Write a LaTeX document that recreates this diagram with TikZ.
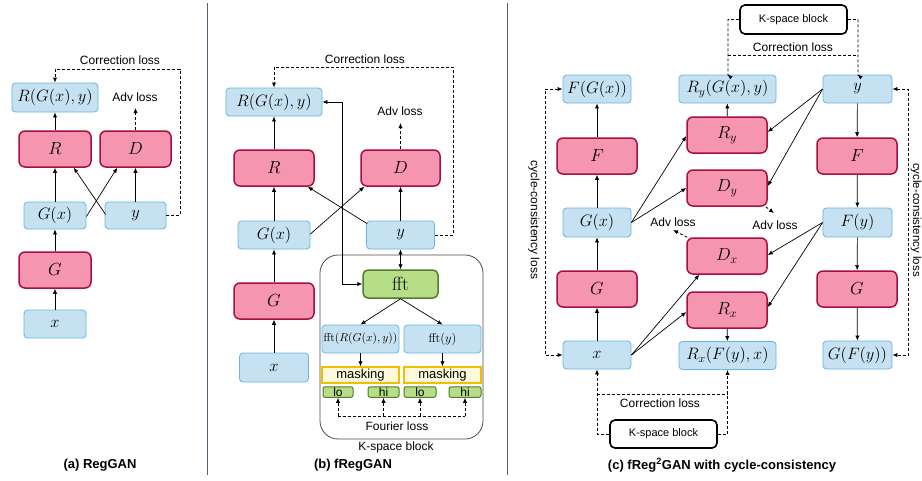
\RequirePackage{fix-cm}
\documentclass[tikz,border=0pt]{standalone}
\usepackage[no-math]{fontspec}
\setmainfont{Liberation Sans}
\usetikzlibrary{arrows.meta,calc}
\definecolor{bfill}{HTML}{C6E2F2}
\definecolor{bdraw}{HTML}{6AB4E0}
\definecolor{pfill}{HTML}{F595B0}
\definecolor{pdraw}{HTML}{A50F42}
\definecolor{gfill}{HTML}{B6DE86}
\definecolor{gdraw}{HTML}{4F7F2A}
\definecolor{mfill}{HTML}{FFF9DB}
\definecolor{mdraw}{HTML}{F2BE00}
\definecolor{sepcol}{HTML}{4F6272}
\newcommand\mfont{\fontsize{16.5}{19}\selectfont}
\newcommand\pfont{\fontsize{17.5}{20}\selectfont}
\tikzset{
  bbox/.style={draw=bdraw, fill=bfill, rounded corners=3.5pt, line width=0.8pt, inner sep=0pt, font=\mfont},
  pbox/.style={draw=pdraw, fill=pfill, rounded corners=6pt, line width=1.5pt, inner sep=0pt, font=\pfont},
  gbox/.style={draw=gdraw, fill=gfill, rounded corners=2pt, line width=1pt, inner sep=0pt},
  mbox/.style={draw=mdraw, fill=mfill, line width=1.3pt, inner sep=0pt, font=\fontsize{13}{15}\selectfont},
  kbox/.style={draw=black, fill=white, rounded corners=5pt, line width=1.6pt, inner sep=0pt, font=\fontsize{11}{13}\selectfont},
  arr/.style={-{Latex[length=5pt,width=4.2pt]}, line width=0.7pt},
  arrb/.style={{Latex[length=5pt,width=4.2pt]}-{Latex[length=5pt,width=4.2pt]}, line width=0.7pt},
  darr/.style={-{Latex[length=5pt,width=4.2pt]}, line width=0.8pt, dash pattern=on 3pt off 2pt},
  darrb/.style={{Latex[length=5pt,width=4.2pt]}-{Latex[length=5pt,width=4.2pt]}, line width=0.8pt, dash pattern=on 3pt off 2pt},
  dline/.style={line width=0.8pt, dash pattern=on 3pt off 2pt},
  lbl/.style={font=\fontsize{12}{14}\selectfont, inner sep=0pt},
  captxt/.style={font=\fontsize{13}{15}\selectfont\bfseries, inner sep=0pt},
  sepline/.style={draw=sepcol, line width=1pt},
}
\begin{document}
\begin{tikzpicture}[x=1pt,y=-1pt]
\useasboundingbox (0,0) rectangle (922,480);
\fill[white] (0,0) rectangle (922,480);
% separators
\draw[sepline] (207,3) -- (207,475);
\draw[sepline] (507,3) -- (507,475);

% ---------------- panel (a)
\node[bbox, minimum width=86, minimum height=29] (aRG) at (55,97.5) {$R(G(x),y)$};
\node[pbox, minimum width=72, minimum height=36] (aR) at (55,149) {$R$};
\node[pbox, minimum width=71, minimum height=36] (aD) at (135.5,149) {$D$};
\node[bbox, minimum width=62, minimum height=27] (aGx) at (55,215.5) {$G(x)$};
\node[bbox, minimum width=61, minimum height=27] (ay) at (135.5,215.5) {$y$};
\node[pbox, minimum width=72, minimum height=36] (aG) at (55,270) {$G$};
\node[bbox, minimum width=62, minimum height=28] (ax) at (55,324) {$x$};
\node[lbl] (aAdvT) at (135,97) {Adv loss};
\node[lbl] (aCorT) at (120,60) {Correction loss};
\coordinate (aAdv) at (135.5,108);
\draw[arr] (ax) -- (aG);
\draw[arr] (aG) -- (aGx);
\draw[arr] (aGx) -- (aR);
\draw[arr] (aR) -- (aRG);
\draw[arr] (ay) -- (aD);
\draw[arr] ($(aGx.east)+(0,1)$) -- ($(aD.south west)+(18,0)$);
\draw[arr] ($(ay.west)+(1,-1)$) -- ($(aR.south east)+(-18,0)$);
\draw[darr] (aD) -- (aAdv);
\draw[darr] (ay.east) -- (180,215.5) -- (180,69) -- (55,69) -- (aRG.north);

% ---------------- panel (b)
\draw[draw=black!70, line width=0.8pt, rounded corners=18pt] (320,255) rectangle (483,439);
\node[bbox, minimum width=96, minimum height=28] (bRG) at (274,102) {$R(G(x),y)$};
\node[pbox, minimum width=80, minimum height=36] (bR) at (274,168) {$R$};
\node[pbox, minimum width=79, minimum height=36] (bD) at (400.5,168) {$D$};
\node[bbox, minimum width=72, minimum height=28] (bGx) at (274,235) {$G(x)$};
\node[bbox, minimum width=68, minimum height=28] (by) at (400.5,235) {$y$};
\node[pbox, minimum width=80, minimum height=36] (bG) at (274,301) {$G$};
\node[bbox, minimum width=69, minimum height=29] (bx) at (274,367.5) {$x$};
\node[lbl] (bAdvT) at (400,111) {Adv loss};
\node[lbl] (bCorT) at (365,59) {Correction loss};
\coordinate (bAdv) at (400.5,123);
\node[gbox, line width=1.5pt, rounded corners=5pt, minimum width=75, minimum height=28, font=\fontsize{19}{21}\selectfont] (bfft) at (400.5,284) {$\mathrm{fft}$};
\node[bbox, minimum width=77, minimum height=28, font=\fontsize{11.5}{13}\selectfont] (bf1) at (360.5,339) {$\mathrm{fft}(R(G(x),y))$};
\node[bbox, minimum width=77, minimum height=28, font=\fontsize{12.5}{14}\selectfont] (bf2) at (442.5,339) {$\mathrm{fft}(y)$};
\node[mbox, minimum width=77, minimum height=16] (bm1) at (360.5,375) {masking};
\node[mbox, minimum width=77, minimum height=16] (bm2) at (442.5,375) {masking};
\node[gbox, minimum width=30, minimum height=10.5, font=\fontsize{12}{13}\selectfont] (bl1) at (338,392) {lo};
\node[gbox, minimum width=31, minimum height=10.5, font=\fontsize{12}{13}\selectfont] (bh1) at (383.5,392) {hi};
\node[gbox, minimum width=32, minimum height=10.5, font=\fontsize{12}{13}\selectfont] (bl2) at (420,392) {lo};
\node[gbox, minimum width=32, minimum height=10.5, font=\fontsize{12}{13}\selectfont] (bh2) at (465,392) {hi};
\node[lbl] (bFouT) at (397,426) {Fourier loss};
\node[lbl] (bKT) at (396,447) {K-space block};
\draw[arr] (bx) -- (bG);
\draw[arr] (bG) -- (bGx);
\draw[arr] (bGx) -- (bR);
\draw[arr] (bR) -- (bRG);
\draw[arr] (by) -- (bD);
\draw[arr] ($(bGx.east)+(0,-1)$) -- ($(bD.south west)+(4,0)$);
\draw[arr] ($(by.north west)+(1,3)$) -- ($(bR.south east)+(-7,0)$);
\draw[darr] (bD) -- (bAdv);
\draw[darr] (by.east) -- (453,235) -- (453,67) -- (274,67) -- (bRG.north);
\draw[arrb] (bfft.west) -- (342,284) -- (342,102) -- (bRG.east);
\draw[arrb] (by) -- (bfft);
\draw[arr] (bfft.south) -- (bf1.north);
\draw[arr] (bfft.south) -- (bf2.north);
\draw[arr] (bf1) -- (bm1);
\draw[arr] (bf2) -- (bm2);
\draw[dline] (338,416) -- (465,416);
\draw[darr] (338,416) -- (bl1);
\draw[darr] (383.5,416) -- (bh1);
\draw[darr] (420,416) -- (bl2);
\draw[darr] (465,416) -- (bh2);

% ---------------- panel (c)
\node[bbox, minimum width=68, minimum height=28] (cFGx) at (597,89) {$F(G(x))$};
\node[pbox, minimum width=80, minimum height=36] (cF1) at (597,156) {$F$};
\node[bbox, minimum width=68, minimum height=29] (cGx) at (597,222.5) {$G(x)$};
\node[pbox, minimum width=80, minimum height=36] (cG1) at (597,289) {$G$};
\node[bbox, minimum width=68, minimum height=28] (cx) at (597,355) {$x$};
\node[bbox, minimum width=97, minimum height=28] (cRyO) at (727.5,89) {$R_y(G(x),y)$};
\node[pbox, minimum width=80, minimum height=36] (cRy) at (727,135) {$R_y$};
\node[pbox, minimum width=80, minimum height=36] (cDy) at (727,188) {$D_y$};
\node[pbox, minimum width=80, minimum height=36] (cDx) at (727,256) {$D_x$};
\node[pbox, minimum width=80, minimum height=36] (cRx) at (727,310) {$R_x$};
\node[bbox, minimum width=97, minimum height=28] (cRxO) at (727.5,355.5) {$R_x(F(y),x)$};
\node[bbox, minimum width=69, minimum height=28] (cy) at (857.5,89) {$y$};
\node[pbox, minimum width=80, minimum height=36] (cF2) at (857,156) {$F$};
\node[bbox, minimum width=69, minimum height=29] (cFy) at (857.5,222.5) {$F(y)$};
\node[pbox, minimum width=80, minimum height=36] (cG2) at (857,289) {$G$};
\node[bbox, minimum width=69, minimum height=28] (cGFy) at (857.5,355) {$G(F(y))$};
\node[kbox, minimum width=107, minimum height=29] (cKt) at (793.5,19.5) {K-space block};
\node[kbox, minimum width=107, minimum height=28] (cKb) at (663.5,434) {K-space block};
\node[lbl] (cCorT1) at (793,47) {Correction loss};
\node[lbl] (cCorT2) at (660,403) {Correction loss};
\node[lbl] (cAdvL) at (673,222) {Adv loss};
\node[lbl] (cAdvR) at (775,225) {Adv loss};
\node[lbl, rotate=-90] (cCycL) at (534,220) {cycle-consistency loss};
\node[lbl, rotate=-90, font=\fontsize{11.5}{13}\selectfont] (cCycR) at (916,220) {cycle-consistency loss};
\coordinate (cAdvLa) at (673,230);
\coordinate (cAdvRa) at (774,213);
% verticals
\draw[arr] (cx) -- (cG1);
\draw[arr] (cG1) -- (cGx);
\draw[arr] (cGx) -- (cF1);
\draw[arr] (cF1) -- (cFGx);
\draw[arr] (cy) -- (cF2);
\draw[arr] (cF2) -- (cFy);
\draw[arr] (cFy) -- (cG2);
\draw[arr] (cG2) -- (cGFy);
\draw[arr] (cRy) -- (cRyO);
\draw[arr] (cRx) -- (cRxO);
% diagonals
\draw[arr] (cGx.east) -- ($(cRy.west)+(0,1)$);
\draw[arr] (cGx.east) -- (cDy.west);
\draw[arr] (cy.west) -- ($(cRy.east)+(0,-3)$);
\draw[arr] (cy.west) -- ($(cDy.east)+(0,-2)$);
\draw[arr] (cFy.west) -- ($(cDx.east)+(0,-1)$);
\draw[arr] (cFy.west) -- ($(cRx.east)+(0,-3)$);
\draw[arr] (cx.east) -- ($(cDx.south west)+(13,0)$);
\draw[arr] (cx.east) -- ($(cRx.west)+(0,2)$);
% adv
\draw[darr] ($(cDy.south east)+(-2,0)$) -- (cAdvRa);
\draw[darr] ($(cDx.north west)+(1,0)$) -- (cAdvLa);
% cycle loops
\draw[darrb] (cFGx.west) -- (545,89) -- (545,355) -- (cx.west);
\draw[darrb] (cy.east) -- (908.5,89) -- (908.5,355) -- (cGFy.east);
% k-space correction top
\draw[darr] (cKt.west) -- (728,19.5) -- (728,75) -- (cRyO.north);
\draw[darr] (cKt.east) -- (858,19.5) -- (858,75) -- (cy.north);
\draw[dline] (728,55) -- (858,55);
% k-space correction bottom
\draw[darr] (cKb.west) -- (597,434) -- (cx.south);
\draw[darr] (cKb.east) -- (727.5,434) -- (cRxO.south);
\draw[dline] (597,394) -- (727.5,394);

% captions
\node[captxt] (capA) at (100,465) {(a) RegGAN};
\node[captxt] (capB) at (353,465) {(b) fRegGAN};
\node[captxt] (capC) at (722,465) {(c) fReg\textsuperscript{2}GAN with cycle-consistency};
\end{tikzpicture}
\end{document}
